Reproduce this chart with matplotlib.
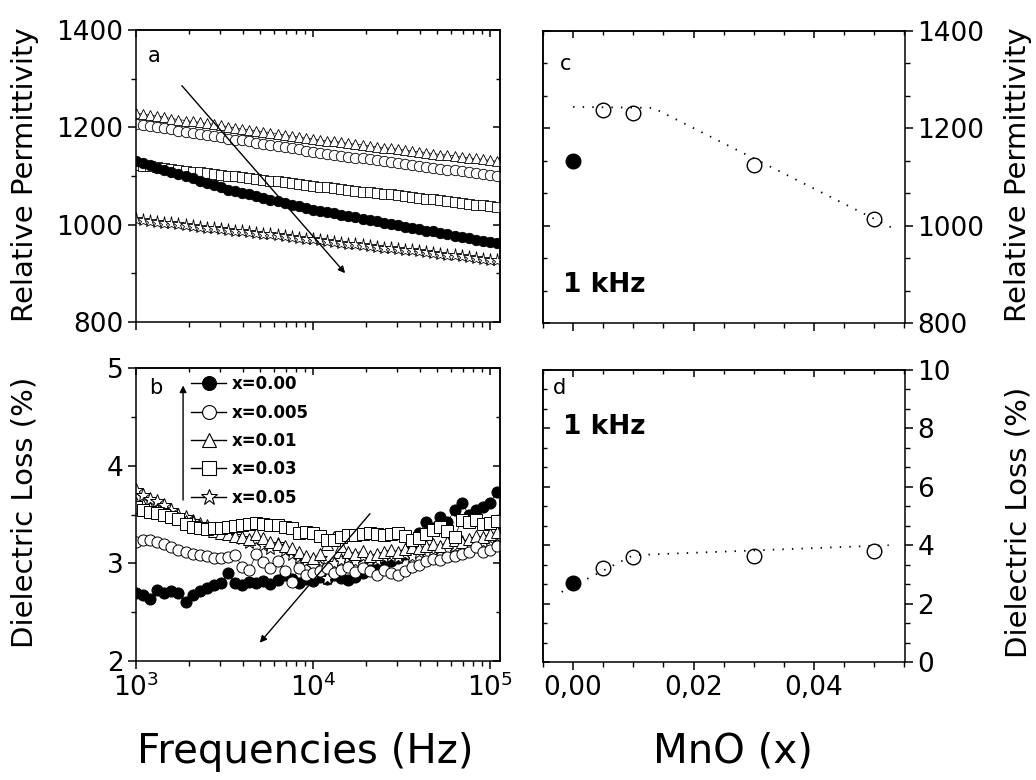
import numpy as np
import matplotlib
matplotlib.use("Agg")
import matplotlib.pyplot as plt
from matplotlib.lines import Line2D
from matplotlib.ticker import (AutoMinorLocator, FuncFormatter, LogLocator,
                               MultipleLocator, NullFormatter)

plt.rcParams.update({
    "font.family": "DejaVu Sans",
    "mathtext.fontset": "dejavusans",
    "axes.linewidth": 1.1,
})

# frequency sweep (0.04 decade steps from 1 kHz)
FREQ = np.logspace(3.0, 5.04, 52)
SERIES = ["x=0.00", "x=0.005", "x=0.01", "x=0.03", "x=0.05"]

# (a) relative permittivity vs frequency
EPS_000 = [1131, 1126, 1122, 1117, 1113, 1108, 1104, 1099, 1095, 1090, 1086, 1081, 1077,
           1072, 1069, 1065, 1062, 1058, 1055, 1051, 1048, 1045, 1041, 1038, 1034, 1031,
           1028, 1026, 1023, 1020, 1018, 1015, 1012, 1010, 1007, 1004, 1002, 999, 996,
           994, 991, 988, 986, 983, 980, 977, 975, 972, 969, 967, 964, 962]
EPS_005 = [1207, 1205, 1202, 1200, 1198, 1196, 1193, 1191, 1189, 1186, 1184, 1182, 1180,
           1177, 1175, 1173, 1171, 1168, 1166, 1164, 1161, 1159, 1157, 1155, 1152, 1150,
           1148, 1146, 1144, 1142, 1140, 1138, 1137, 1135, 1133, 1131, 1129, 1127, 1125,
           1123, 1121, 1119, 1117, 1115, 1113, 1112, 1110, 1108, 1106, 1104, 1102, 1100]
EPS_010 = [1229, 1227, 1225, 1223, 1221, 1218, 1216, 1214, 1212, 1210, 1208, 1206, 1204,
           1201, 1199, 1197, 1195, 1193, 1191, 1189, 1187, 1184, 1182, 1180, 1178, 1176,
           1174, 1172, 1171, 1169, 1167, 1165, 1164, 1162, 1160, 1158, 1157, 1155, 1153,
           1151, 1150, 1148, 1146, 1144, 1143, 1141, 1139, 1137, 1136, 1134, 1132, 1130]
EPS_030 = [1123, 1121, 1120, 1118, 1116, 1114, 1113, 1111, 1109, 1108, 1106, 1104, 1102,
           1101, 1099, 1097, 1095, 1094, 1092, 1090, 1089, 1087, 1085, 1083, 1082, 1080,
           1078, 1077, 1075, 1073, 1072, 1070, 1068, 1067, 1065, 1063, 1062, 1060, 1058,
           1057, 1055, 1053, 1052, 1050, 1048, 1046, 1045, 1043, 1041, 1040, 1038, 1036]
EPS_050 = [1011, 1009, 1008, 1006, 1004, 1003, 1001, 999, 998, 996, 994, 993, 991,
           990, 988, 986, 985, 983, 981, 980, 978, 976, 975, 973, 971, 970,
           968, 966, 965, 963, 961, 960, 958, 957, 955, 953, 952, 950, 948,
           947, 945, 943, 942, 940, 938, 937, 935, 933, 932, 930, 928, 927]

# (b) dielectric loss (%) vs frequency
LOSS_000 = [2.70, 2.68, 2.63, 2.73, 2.70, 2.72, 2.70, 2.60, 2.68, 2.72, 2.75, 2.78, 2.80,
            2.90, 2.80, 2.78, 2.81, 2.80, 2.82, 2.79, 2.83, 2.88, 2.84, 2.80, 2.84, 2.82,
            2.86, 2.84, 2.88, 2.85, 2.83, 2.86, 2.90, 2.93, 2.96, 3.00, 3.02, 3.05, 3.10,
            3.20, 3.31, 3.42, 3.36, 3.47, 3.42, 3.55, 3.62, 3.50, 3.55, 3.58, 3.62, 3.73]
LOSS_005 = [3.22, 3.24, 3.24, 3.22, 3.20, 3.17, 3.14, 3.12, 3.10, 3.09, 3.07, 3.05, 3.05,
            3.06, 3.09, 2.96, 2.93, 3.10, 3.01, 2.95, 3.02, 2.92, 2.81, 2.95, 2.88, 2.90,
            2.92, 2.95, 2.90, 2.93, 2.96, 2.91, 2.95, 2.92, 2.88, 2.93, 2.90, 2.88, 2.92,
            2.96, 2.98, 3.02, 3.04, 3.03, 3.06, 3.07, 3.10, 3.12, 3.17, 3.12, 3.14, 3.18]
LOSS_010 = [3.62, 3.60, 3.57, 3.55, 3.52, 3.48, 3.46, 3.43, 3.42, 3.38, 3.36, 3.33, 3.31,
            3.30, 3.28, 3.27, 3.25, 3.30, 3.26, 3.22, 3.20, 3.18, 3.16, 3.12, 3.08, 3.05,
            3.10, 3.20, 3.27, 3.18, 3.12, 3.10, 3.13, 3.08, 3.10, 3.12, 3.14, 3.12, 3.15,
            3.17, 3.16, 3.18, 3.20, 3.18, 3.22, 3.24, 3.22, 3.25, 3.28, 3.27, 3.30, 3.32]
LOSS_030 = [3.58, 3.55, 3.53, 3.52, 3.50, 3.47, 3.45, 3.40, 3.37, 3.36, 3.35, 3.36, 3.36,
            3.37, 3.38, 3.39, 3.40, 3.41, 3.40, 3.39, 3.39, 3.37, 3.36, 3.31, 3.32, 3.31,
            3.28, 3.24, 3.24, 3.27, 3.29, 3.29, 3.30, 3.31, 3.30, 3.29, 3.30, 3.31, 3.28,
            3.24, 3.26, 3.30, 3.34, 3.37, 3.33, 3.27, 3.44, 3.42, 3.44, 3.40, 3.41, 3.43]
LOSS_050 = [3.75, 3.70, 3.66, 3.64, 3.60, 3.55, 3.50, 3.47, 3.43, 3.40, 3.38, 3.35, 3.33,
            3.30, 3.28, 3.26, 3.22, 3.25, 3.19, 3.16, 3.20, 3.14, 3.10, 3.06, 3.02, 2.97,
            3.05, 2.85, 3.00, 3.03, 3.05, 3.02, 3.08, 3.05, 3.03, 3.06, 3.08, 3.06, 3.10,
            3.08, 3.12, 3.10, 3.14, 3.16, 3.15, 3.18, 3.22, 3.20, 3.24, 3.22, 3.26, 3.28]

# (c), (d) values at 1 kHz vs MnO content
MNO_X = [0.0, 0.005, 0.01, 0.03, 0.05]
EPS_1K = [1132, 1237, 1232, 1125, 1013]
LOSS_1K = [2.70, 3.21, 3.61, 3.63, 3.81]
GUIDE_C_X = [0.0, 0.0133, 0.0532]
GUIDE_C_Y = [1244, 1242, 994]
GUIDE_D_X = [-0.0019, 0.0100, 0.0524]
GUIDE_D_Y = [2.40, 3.66, 4.00]

STYLES = {
    "x=0.00": dict(marker="o", mfc="black"),
    "x=0.005": dict(marker="o", mfc="white"),
    "x=0.01": dict(marker="^", mfc="white"),
    "x=0.03": dict(marker="s", mfc="white"),
    "x=0.05": dict(marker="*", mfc="white"),
}
ORDER_A = ["x=0.05", "x=0.01", "x=0.005", "x=0.03", "x=0.00"]
ORDER_B = ["x=0.00", "x=0.05", "x=0.01", "x=0.005", "x=0.03"]
EPS = dict(zip(SERIES, [EPS_000, EPS_005, EPS_010, EPS_030, EPS_050]))
LOSS = dict(zip(SERIES, [LOSS_000, LOSS_005, LOSS_010, LOSS_030, LOSS_050]))

W, H = 1036, 780
TICK_FS = 19
LABEL_FS = 21


def px_axes(fig, left, top, right, bottom):
    return fig.add_axes([left / W, 1 - bottom / H, (right - left) / W, (bottom - top) / H])


def style_ticks(ax):
    ax.tick_params(which="major", direction="out", length=6, width=1.1, labelsize=TICK_FS, pad=3)
    ax.tick_params(which="minor", direction="out", length=3.5, width=1.0)


def mirror(ax, side, major, minor):
    sec = ax.secondary_xaxis(side) if side in ("top", "bottom") else ax.secondary_yaxis(side)
    axis = sec.xaxis if side in ("top", "bottom") else sec.yaxis
    axis.set_major_locator(major)
    axis.set_minor_locator(minor)
    axis.set_major_formatter(NullFormatter())
    axis.set_minor_formatter(NullFormatter())
    sec.tick_params(which="major", direction="in", length=5, width=1.1)
    sec.tick_params(which="minor", direction="in", length=3, width=1.0)
    return sec


def log_x(ax, labels):
    ax.set_xscale("log")
    ax.set_xlim(1e3, 1.14e5)
    ax.xaxis.set_major_locator(LogLocator(base=10))
    ax.xaxis.set_minor_locator(LogLocator(base=10, subs=np.arange(2, 10)))
    ax.xaxis.set_minor_formatter(NullFormatter())
    if not labels:
        ax.xaxis.set_major_formatter(NullFormatter())
    mirror(ax, "top", LogLocator(base=10), LogLocator(base=10, subs=np.arange(2, 10)))


def mno_x(ax, labels):
    ax.set_xlim(-0.005, 0.0551)
    ax.xaxis.set_major_locator(MultipleLocator(0.02))
    ax.xaxis.set_minor_locator(MultipleLocator(0.005))
    if labels:
        ax.xaxis.set_major_formatter(FuncFormatter(lambda v, _p: f"{v:.2f}".replace(".", ",")))
    else:
        ax.xaxis.set_major_formatter(NullFormatter())
    mirror(ax, "top", MultipleLocator(0.02), MultipleLocator(0.005))


fig = plt.figure(figsize=(W / 100, H / 100), dpi=100)
ax_a = px_axes(fig, 136, 30, 500, 322)
ax_b = px_axes(fig, 136, 368, 500, 661)
ax_c = px_axes(fig, 543, 31, 905, 323)
ax_d = px_axes(fig, 543, 370, 905, 662)

# (a)
for name in ORDER_A:
    st = STYLES[name]
    ax_a.plot(FREQ, EPS[name], color="black", lw=0.5, marker=st["marker"],
              ms=9.5 if st["marker"] == "*" else 7.5, mfc=st["mfc"], mec="black", mew=0.6)
ax_a.set_ylim(800, 1400)
ax_a.yaxis.set_major_locator(MultipleLocator(200))
ax_a.yaxis.set_minor_locator(MultipleLocator(100))
log_x(ax_a, labels=False)
mirror(ax_a, "right", MultipleLocator(200), MultipleLocator(100))
style_ticks(ax_a)
ax_a.annotate("", xy=(15560, 896), xytext=(1773, 1290),
              arrowprops=dict(arrowstyle="-|>", lw=1.0, color="black", mutation_scale=10))
ax_a.text(0.033, 0.911, "a", transform=ax_a.transAxes, fontsize=15, ha="left", va="center")

# (b)
for name in ORDER_B:
    st = STYLES[name]
    ax_b.plot(FREQ, LOSS[name], color="black", lw=0.5, marker=st["marker"],
              ms=10.5 if st["marker"] == "*" else 8, mfc=st["mfc"], mec="black", mew=0.7)
ax_b.set_ylim(2, 5)
ax_b.yaxis.set_major_locator(MultipleLocator(1))
ax_b.yaxis.set_minor_locator(MultipleLocator(0.5))
log_x(ax_b, labels=True)
mirror(ax_b, "right", MultipleLocator(1), MultipleLocator(0.5))
style_ticks(ax_b)
ax_b.annotate("", xy=(1845, 4.85), xytext=(1845, 3.62),
              arrowprops=dict(arrowstyle="-|>", lw=1.0, color="black", mutation_scale=10))
ax_b.annotate("", xy=(4890, 2.165), xytext=(21500, 3.53),
              arrowprops=dict(arrowstyle="-|>", lw=1.0, color="black", mutation_scale=10))
ax_b.text(0.036, 0.932, "b", transform=ax_b.transAxes, fontsize=15, ha="left", va="center")
handles = [Line2D([], [], color="black", lw=1.0, marker=STYLES[n]["marker"],
                  ms=12 if STYLES[n]["marker"] == "*" else 10, mfc=STYLES[n]["mfc"],
                  mec="black", mew=0.8) for n in SERIES]
ax_b.legend(handles, SERIES, loc="upper left", bbox_to_anchor=(0.152, 0.975), frameon=False,
            prop=dict(size=12, weight="bold"), handlelength=2.1, handletextpad=0.35,
            labelspacing=0.62, borderpad=0, borderaxespad=0)

# (c)
ax_c.plot(GUIDE_C_X, GUIDE_C_Y, color="black", lw=1.3, ls=(0, (0.8, 4.5)))
ax_c.plot(MNO_X[:1], EPS_1K[:1], ls="none", marker="o", ms=10.5, mfc="black", mec="black")
ax_c.plot(MNO_X[1:], EPS_1K[1:], ls="none", marker="o", ms=10.5, mfc="none", mec="black", mew=1.0)
ax_c.set_ylim(800, 1400)
ax_c.yaxis.tick_right()
ax_c.yaxis.set_major_locator(MultipleLocator(200))
ax_c.yaxis.set_minor_locator(AutoMinorLocator(3))
mno_x(ax_c, labels=False)
mirror(ax_c, "left", MultipleLocator(200), AutoMinorLocator(3))
style_ticks(ax_c)
ax_c.text(0.047, 0.886, "c", transform=ax_c.transAxes, fontsize=15, ha="left", va="center")
ax_c.text(0.055, 0.131, "1 kHz", transform=ax_c.transAxes, fontsize=19, fontweight="bold",
          ha="left", va="center")

# (d)
ax_d.plot(GUIDE_D_X, GUIDE_D_Y, color="black", lw=1.3, ls=(0, (0.8, 4.5)))
ax_d.plot(MNO_X[:1], LOSS_1K[:1], ls="none", marker="o", ms=10.5, mfc="black", mec="black")
ax_d.plot(MNO_X[1:], LOSS_1K[1:], ls="none", marker="o", ms=10.5, mfc="none", mec="black", mew=1.0)
ax_d.set_ylim(0, 10)
ax_d.yaxis.tick_right()
ax_d.yaxis.set_major_locator(MultipleLocator(2))
ax_d.yaxis.set_minor_locator(AutoMinorLocator(3))
mno_x(ax_d, labels=True)
mirror(ax_d, "left", MultipleLocator(2), AutoMinorLocator(3))
style_ticks(ax_d)
ax_d.text(0.028, 0.938, "d", transform=ax_d.transAxes, fontsize=15, ha="left", va="center")
ax_d.text(0.055, 0.805, "1 kHz", transform=ax_d.transAxes, fontsize=19, fontweight="bold",
          ha="left", va="center")

# axis titles
fig.text(25 / W, 1 - 175 / H, "Relative Permittivity", rotation=90, fontsize=LABEL_FS,
         ha="center", va="center")
fig.text(25 / W, 1 - 512 / H, "Dielectric Loss (%)", rotation=90, fontsize=LABEL_FS,
         ha="center", va="center")
fig.text(1018 / W, 1 - 175 / H, "Relative Permittivity", rotation=90, fontsize=LABEL_FS,
         ha="center", va="center")
fig.text(1018 / W, 1 - 522 / H, "Dielectric Loss (%)", rotation=90, fontsize=LABEL_FS,
         ha="center", va="center")
fig.text(305 / W, 1 - 752 / H, "Frequencies (Hz)", fontsize=29, ha="center", va="center")
fig.text(733 / W, 1 - 752 / H, "MnO (x)", fontsize=29, ha="center", va="center")

fig.savefig("out.png", dpi=100)
